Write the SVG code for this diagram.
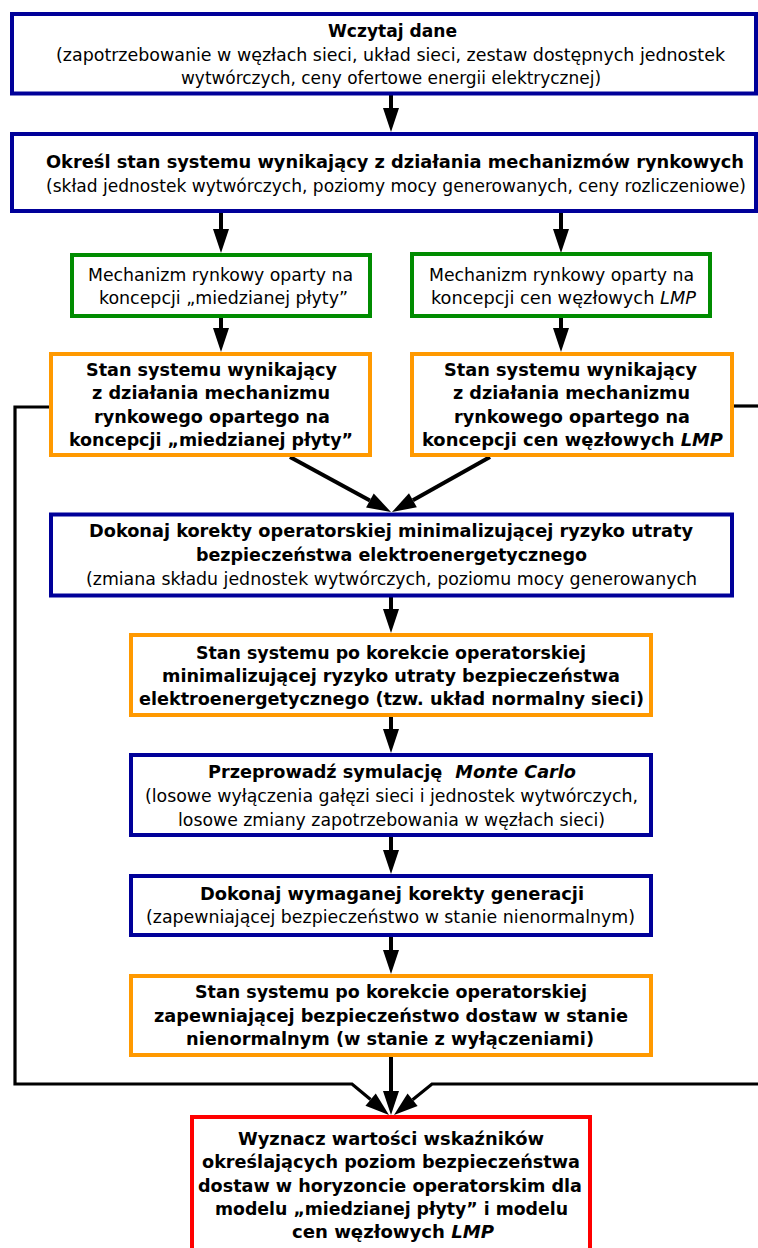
<svg xmlns="http://www.w3.org/2000/svg" width="758" height="1248" viewBox="0 0 758 1248">
<style>
text{font-family:"DejaVu Sans Condensed","DejaVu Sans",Tahoma,sans-serif;font-stretch:condensed;font-size:17px;fill:#000;text-anchor:middle}
.b{font-weight:bold}
.i{font-style:italic}
.box{fill:#fff;stroke-width:4}
.blue{stroke:#000099}
.green{stroke:#008C00}
.orange{stroke:#FF9900}
.red{stroke:#FF0000}
.c{fill:none;stroke:#000;stroke-width:4}
.l{fill:none;stroke:#000;stroke-width:3.2}
</style>
<defs>
<marker id="av" markerUnits="userSpaceOnUse" markerWidth="24" markerHeight="16" viewBox="0 0 24 16" refX="0" refY="8" orient="auto" overflow="visible">
<path d="M0,0 L24,8 L0,16 Z" fill="#000"/>
</marker>
</defs>

<g id="connectors">
<line class="c" x1="391" y1="95" x2="391" y2="108" marker-end="url(#av)"/>
<line class="c" x1="221" y1="213" x2="221" y2="229" marker-end="url(#av)"/>
<line class="c" x1="561" y1="213" x2="561" y2="229" marker-end="url(#av)"/>
<line class="c" x1="221" y1="318" x2="221" y2="328" marker-end="url(#av)"/>
<line class="c" x1="561" y1="318" x2="561" y2="328" marker-end="url(#av)"/>
<line class="c" x1="290" y1="457" x2="369.9" y2="500.5" marker-end="url(#av)"/>
<line class="c" x1="490" y1="457" x2="412.9" y2="500.3" marker-end="url(#av)"/>
<line class="c" x1="391" y1="597" x2="391" y2="609" marker-end="url(#av)"/>
<line class="c" x1="391" y1="717" x2="391" y2="729" marker-end="url(#av)"/>
<line class="c" x1="391" y1="837" x2="391" y2="850" marker-end="url(#av)"/>
<line class="c" x1="391" y1="937" x2="391" y2="950" marker-end="url(#av)"/>
<line class="c" x1="391" y1="1057" x2="391" y2="1091" marker-end="url(#av)"/>
<polyline class="l" points="49,407 15,407 15,1084 352,1084 370.6,1099.6" marker-end="url(#av)"/>
<polyline class="l" points="734,406 760,406"/>
<polyline class="l" points="762,1084 432,1084 412.6,1099.8" marker-end="url(#av)"/>
</g>

<g id="n1">
<rect class="box blue" x="12" y="14" width="744" height="79.5"/>
<text class="b" x="392.5" y="37" textLength="129" lengthAdjust="spacingAndGlyphs">Wczytaj dane</text>
<text x="390.5" y="61" textLength="669" lengthAdjust="spacingAndGlyphs">(zapotrzebowanie w węzłach sieci, układ sieci, zestaw dostępnych jednostek</text>
<text x="391" y="84" textLength="420" lengthAdjust="spacingAndGlyphs">wytwórczych, ceny ofertowe energii elektrycznej)</text>
</g>

<g id="n2">
<rect class="box blue" x="12" y="134" width="744" height="77"/>
<text class="b" x="395" y="168" textLength="698" lengthAdjust="spacingAndGlyphs">Określ stan systemu wynikający z działania mechanizmów rynkowych</text>
<text x="396" y="192" textLength="700" lengthAdjust="spacingAndGlyphs">(skład jednostek wytwórczych, poziomy mocy generowanych, ceny rozliczeniowe)</text>
</g>

<g id="n3">
<rect class="box green" x="72" y="255" width="298" height="61"/>
<text x="220.5" y="281" textLength="265" lengthAdjust="spacingAndGlyphs">Mechanizm rynkowy oparty na</text>
<text x="223.5" y="304" textLength="249" lengthAdjust="spacingAndGlyphs">koncepcji „miedzianej płyty”</text>
</g>

<g id="n4">
<rect class="box green" x="412" y="254" width="298" height="62"/>
<text x="561.5" y="281" textLength="265" lengthAdjust="spacingAndGlyphs">Mechanizm rynkowy oparty na</text>
<text x="563.5" y="304" textLength="265" lengthAdjust="spacingAndGlyphs">koncepcji cen węzłowych <tspan class="i">LMP</tspan></text>
</g>

<g id="n5">
<rect class="box orange" x="51" y="354" width="319" height="101"/>
<text class="b" x="211.5" y="376" textLength="251" lengthAdjust="spacingAndGlyphs">Stan systemu wynikający</text>
<text class="b" x="211" y="399" textLength="238" lengthAdjust="spacingAndGlyphs">z działania mechanizmu</text>
<text class="b" x="212" y="423" textLength="236" lengthAdjust="spacingAndGlyphs">rynkowego opartego na</text>
<text class="b" x="211" y="446" textLength="284" lengthAdjust="spacingAndGlyphs">koncepcji „miedzianej płyty”</text>
</g>

<g id="n6">
<rect class="box orange" x="412" y="354" width="320" height="101"/>
<text class="b" x="570.5" y="376" textLength="253" lengthAdjust="spacingAndGlyphs">Stan systemu wynikający</text>
<text class="b" x="571.5" y="399" textLength="237" lengthAdjust="spacingAndGlyphs">z działania mechanizmu</text>
<text class="b" x="572" y="423" textLength="236" lengthAdjust="spacingAndGlyphs">rynkowego opartego na</text>
<text class="b" x="572.5" y="446" textLength="301" lengthAdjust="spacingAndGlyphs">koncepcji cen węzłowych <tspan class="i">LMP</tspan></text>
</g>

<g id="n7">
<rect class="box blue" x="51" y="514.5" width="681" height="81"/>
<text class="b" x="391" y="537" textLength="604" lengthAdjust="spacingAndGlyphs">Dokonaj korekty operatorskiej minimalizującej ryzyko utraty</text>
<text class="b" x="391.5" y="561" textLength="391" lengthAdjust="spacingAndGlyphs">bezpieczeństwa elektroenergetycznego</text>
<text x="391.5" y="585" textLength="611" lengthAdjust="spacingAndGlyphs">(zmiana składu jednostek wytwórczych, poziomu mocy generowanych</text>
</g>

<g id="n8">
<rect class="box orange" x="131" y="635" width="520" height="80"/>
<text class="b" x="391" y="659" textLength="390" lengthAdjust="spacingAndGlyphs">Stan systemu po korekcie operatorskiej</text>
<text class="b" x="391" y="682" textLength="458" lengthAdjust="spacingAndGlyphs">minimalizującej ryzyko utraty bezpieczeństwa</text>
<text class="b" x="391.5" y="705" textLength="505" lengthAdjust="spacingAndGlyphs">elektroenergetycznego (tzw. układ normalny sieci)</text>
</g>

<g id="n9">
<rect class="box blue" x="131" y="755" width="520" height="80"/>
<text class="b" x="392" y="778" textLength="368" lengthAdjust="spacingAndGlyphs">Przeprowadź symulację <tspan class="i" dx="6">Monte Carlo</tspan></text>
<text x="391.5" y="802" textLength="493" lengthAdjust="spacingAndGlyphs">(losowe wyłączenia gałęzi sieci i jednostek wytwórczych,</text>
<text x="391.5" y="826" textLength="427" lengthAdjust="spacingAndGlyphs">losowe zmiany zapotrzebowania w węzłach sieci)</text>
</g>

<g id="n10">
<rect class="box blue" x="131" y="876" width="520" height="59"/>
<text class="b" x="392" y="900" textLength="384" lengthAdjust="spacingAndGlyphs">Dokonaj wymaganej korekty generacji</text>
<text x="390.5" y="923" textLength="489" lengthAdjust="spacingAndGlyphs">(zapewniającej bezpieczeństwo w stanie nienormalnym)</text>
</g>

<g id="n11">
<rect class="box orange" x="131" y="976" width="520" height="79"/>
<text class="b" x="391" y="998" textLength="392" lengthAdjust="spacingAndGlyphs">Stan systemu po korekcie operatorskiej</text>
<text class="b" x="391" y="1022" textLength="474" lengthAdjust="spacingAndGlyphs">zapewniającej bezpieczeństwo dostaw w stanie</text>
<text class="b" x="390" y="1045" textLength="408" lengthAdjust="spacingAndGlyphs">nienormalnym (w stanie z wyłączeniami)</text>
</g>

<g id="n12">
<rect class="box red" x="192" y="1117" width="398" height="150"/>
<text class="b" x="391" y="1145" textLength="306" lengthAdjust="spacingAndGlyphs">Wyznacz wartości wskaźników</text>
<text class="b" x="391" y="1168" textLength="378" lengthAdjust="spacingAndGlyphs">określających poziom bezpieczeństwa</text>
<text class="b" x="390" y="1192" textLength="384" lengthAdjust="spacingAndGlyphs">dostaw w horyzoncie operatorskim dla</text>
<text class="b" x="391.5" y="1215" textLength="353" lengthAdjust="spacingAndGlyphs">modelu „miedzianej płyty” i modelu</text>
<text class="b" x="393" y="1238" textLength="202" lengthAdjust="spacingAndGlyphs">cen węzłowych <tspan class="i">LMP</tspan></text>
</g>
</svg>
